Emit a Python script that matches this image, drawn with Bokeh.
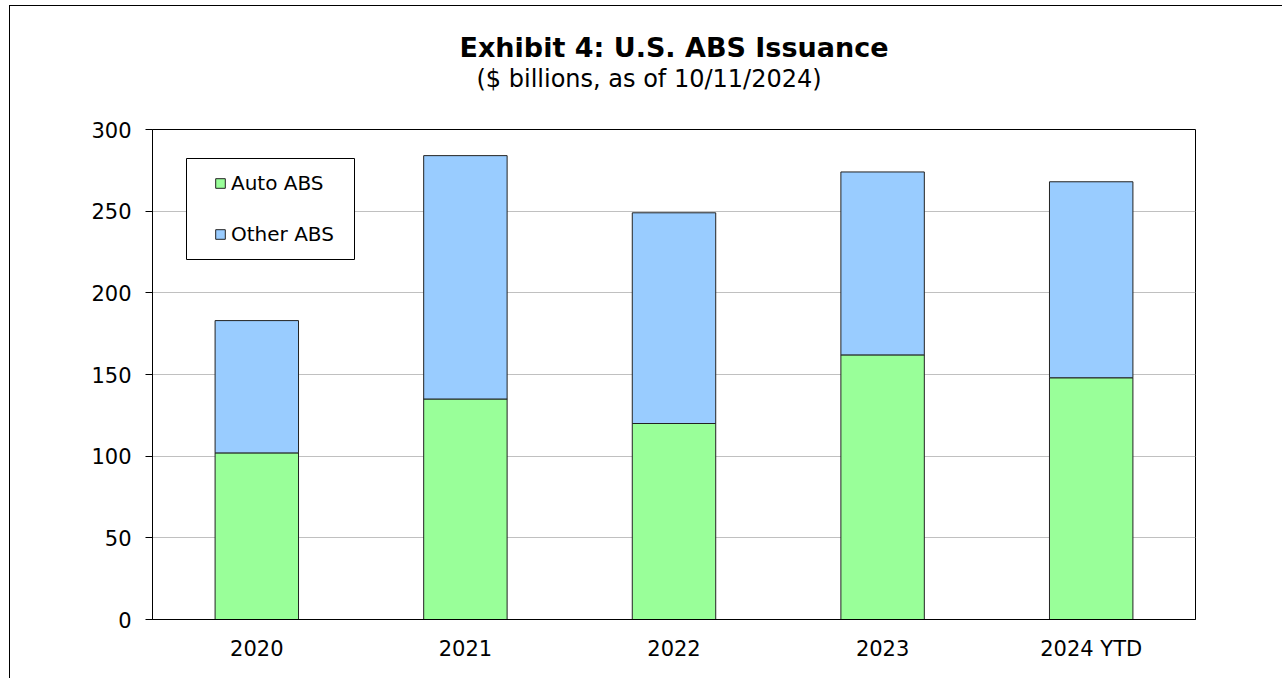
from bokeh.plotting import figure
from bokeh.models import Legend, Range1d, FactorRange, Title, BoxAnnotation
from bokeh.embed import file_html
from bokeh.resources import INLINE

categories = ["2020", "2021", "2022", "2023", "2024 YTD"]
auto_abs = [102, 135, 120, 162, 148]
other_abs = [81, 149, 129, 112, 120]
y_ticks = [0, 50, 100, 150, 200, 250, 300]
title_text = "Exhibit 4: U.S. ABS Issuance"
subtitle_text = "($ billions, as of 10/11/2024)"

data = {"cat": categories, "Auto ABS": auto_abs, "Other ABS": other_abs}

FONT = "DejaVu Sans"

p = figure(
    x_range=FactorRange(*categories, range_padding=0.0),
    y_range=Range1d(0, 300),
    width=1273, height=673,
    output_backend="svg", toolbar_location=None,
    min_border_left=142, min_border_right=88, min_border_top=123, min_border_bottom=60,
)
p.styles = {"margin-left": "9px", "margin-top": "5px",
            "border-left": "1px solid black", "border-top": "1px solid black"}

rs = p.vbar_stack(["Auto ABS", "Other ABS"], x="cat", width=0.4, source=data,
                  color=["#99FF99", "#99CCFF"], line_color="#222222", line_width=1)

# legend frame
box = BoxAnnotation(left=34, right=202, bottom=360, top=461,
                    left_units="screen", right_units="screen",
                    top_units="screen", bottom_units="screen",
                    fill_color="white", fill_alpha=1.0,
                    line_color="black", line_width=1, line_alpha=1.0)
p.add_layout(box)

legend = Legend(items=[("Auto ABS", [rs[0]]), ("Other ABS", [rs[1]])],
                location=(62, 373))
legend.border_line_color = None
legend.background_fill_alpha = 0
legend.glyph_width = 12
legend.glyph_height = 12
legend.label_text_font = FONT
legend.label_text_font_size = "20px"
legend.label_text_color = "black"
legend.label_standoff = 5
legend.label_height = 24
legend.padding = 0
legend.spacing = 27
legend.margin = 0
p.add_layout(legend, "center")

# titles (first added sits closest to the plot frame)
spacer = Title(text=" ", text_font_size="10px", standoff=24)
sub = Title(text=subtitle_text, align="left", offset=324, text_font=FONT,
            text_font_size="24px", text_font_style="normal",
            text_color="black", standoff=0, text_line_height=1.0)
main = Title(text=title_text, align="center", text_font=FONT,
             text_font_size="27px", text_font_style="bold",
             text_color="black", standoff=0)
p.add_layout(spacer, "above")
p.add_layout(sub, "above")
p.add_layout(main, "above")

p.outline_line_color = "black"
p.outline_line_width = 1
p.xgrid.grid_line_color = None
p.ygrid.grid_line_color = "#C0C0C0"
p.ygrid.grid_line_width = 1

p.yaxis.ticker = y_ticks
p.yaxis.major_label_text_font = FONT
p.yaxis.major_label_text_font_size = "21px"
p.yaxis.major_label_text_color = "black"
p.yaxis.major_tick_out = 7
p.yaxis.major_tick_in = 0
p.yaxis.minor_tick_line_color = None
p.yaxis.axis_line_color = "black"
p.yaxis.major_tick_line_color = "black"
p.yaxis.major_label_standoff = 14

p.xaxis.major_label_text_font = FONT
p.xaxis.major_label_text_font_size = "21px"
p.xaxis.major_label_text_color = "black"
p.xaxis.major_tick_line_color = None
p.xaxis.minor_tick_line_color = None
p.xaxis.axis_line_color = "black"
p.xaxis.major_label_standoff = 11

open("out.html", "w").write(file_html(p, INLINE))
